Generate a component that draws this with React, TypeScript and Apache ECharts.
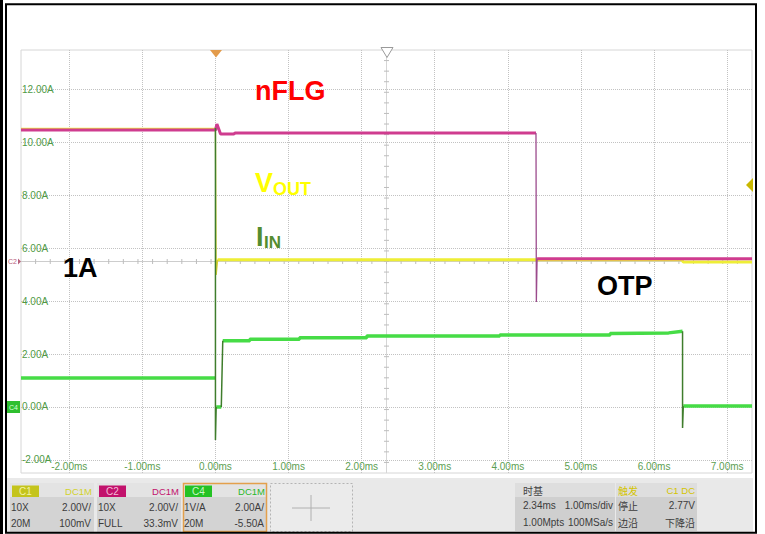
import React, { useEffect, useRef } from "react";
import * as echarts from "echarts";

// ---- axis ranges (scope screen: 10 div x 1 ms, 8 div x 2 A, offset -5.50 A, delay 2.34 ms)
const X_MIN = -2.66;
const X_MAX = 7.34;
const Y_MIN = -2.5;
const Y_MAX = 13.5;
const CENTER_TIME = 2.34;
const CENTER_CURRENT = 5.5;

// ---- tick labels
const timeTicks = [-2, -1, 0, 1, 2, 3, 4, 5, 6, 7];
const currentTicks = [-2, 0, 2, 4, 6, 8, 10, 12];

// ---- nFLG (C2, magenta)
const nflgT = [-2.66, 0.0, 0.02, 0.07, 0.25, 0.27, 4.385, null, 4.4, 7.34];
const nflgV = [10.47, 10.47, 10.7, 10.32, 10.32, 10.36, 10.36, null, 5.6, 5.6];
const nflgEdgeT = [4.385, 4.39, 4.4];
const nflgEdgeV = [10.36, 3.97, 5.6];

// ---- VOUT (C1, yellow)
const voutT = [-2.66, 0.0, null, 0.03, 6.38, 6.4, 7.34];
const voutV = [10.5, 10.5, null, 5.57, 5.57, 5.48, 5.48];
const voutEdgeT = [0.0, 0.01, 0.03];
const voutEdgeV = [10.5, 4.99, 5.57];

// ---- IIN (C4, green)
const iinT = [-2.66, 0.0, null, 0.01, 0.08, null, 0.1, 0.47, 0.47, 1.15, 1.15, 2.07, 2.07, 3.89, 3.89, 5.4, 5.4, 6.2, 6.39, null, 6.4, 7.34];
const iinV = [1.09, 1.09, null, 0.0, 0.0, null, 2.5, 2.5, 2.56, 2.56, 2.62, 2.62, 2.68, 2.68, 2.72, 2.72, 2.78, 2.8, 2.86, null, 0.03, 0.03];
const iinEdgeT = [0.0, 0.0, 0.0, 0.01, null, 0.08, 0.1, null, 6.39, 6.39, 6.4];
const iinEdgeV = [1.09, 10.55, -1.25, 0.0, null, 0.0, 2.5, null, 2.86, -0.8, 0.03];

const zip = (t: (number | null)[], v: (number | null)[]) =>
  t.map((x, i) => (x == null || v[i] == null ? ["-", "-"] : [x, v[i]]));

const SANS = '"Liberation Sans", Arial, sans-serif';
const CJK = '"Noto Sans CJK SC", "Liberation Sans", sans-serif';

const txt = (x: number, y: number, text: string, fill: string, size = 10, align = "left", family = SANS, weight = "normal") => ({
  type: "text",
  x,
  y,
  z: 100,
  style: { text, fill, fontSize: size, fontFamily: family, fontWeight: weight, textAlign: align, textVerticalAlign: "middle", align, verticalAlign: "middle", lineHeight: size + 1 },
});
const rect = (x: number, y: number, w: number, h: number, style: any) => ({ type: "rect", z: 50, shape: { x, y, width: w, height: h }, style });

function channelBox(x: number, label: string, labelBg: string, labelFg: string, coupling: string, couplingColor: string, r1: [string, string], r2: [string, string], selected = false) {
  const w = 84;
  const els: any[] = [
    rect(x, 483, w, 14, { fill: "#e3e3e3" }),
    rect(x, 497, w, 35, { fill: "#d3d3d3" }),
    rect(x + 2, 485.5, 27, 11.5, { fill: labelBg }),
    txt(x + 15.5, 491.5, label, labelFg, 10, "center"),
    txt(x + w - 2, 491.5, coupling, couplingColor, 9.5, "right"),
    txt(x + 1, 507, r1[0], "#3c3c3c", 10, "left"),
    txt(x + w - 3, 507, r1[1], "#3c3c3c", 10, "right"),
    txt(x + 1, 523, r2[0], "#3c3c3c", 10, "left"),
    txt(x + w - 3, 523, r2[1], "#3c3c3c", 10, "right"),
  ];
  if (selected) els.push({ type: "rect", z: 60, shape: { x: x + 0.5, y: 483.5, width: w - 1, height: 48 }, style: { fill: "none", stroke: "#e3a04c", lineWidth: 1.5 } });
  return els;
}

export default function App() {
  const ref = useRef<HTMLDivElement>(null);
  useEffect(() => {
    if (!ref.current) return;
    const chart = echarts.init(ref.current, null, { renderer: "svg" });

    const line = (name: string, data: any[], color: string, width: number, z: number) => ({
      name,
      type: "line",
      data,
      symbol: "none",
      silent: true,
      connectNulls: false,
      z,
      lineStyle: { color, width },
    });

    const graphics: any[] = [
      // outer frame
      rect(0, 0, 3, 534, { fill: "#000" }),
      { type: "rect", z: 90, shape: { x: 6, y: 4.3, width: 750, height: 528.5 }, style: { fill: "none", stroke: "#000", lineWidth: 2 } },
      // status bar
      rect(7, 478, 746, 54, { fill: "#e9e9e9" }),
      ...channelBox(10, "C1", "#c4c41c", "#f2f2a8", "DC1M", "#d2d22c", ["10X", "2.00V/"], ["20M", "100mV"]),
      ...channelBox(97, "C2", "#c2126c", "#f4bcd8", "DC1M", "#c2126c", ["10X", "2.00V/"], ["FULL", "33.3mV"]),
      ...channelBox(183, "C4", "#24c224", "#c8f8c8", "DC1M", "#2ab82a", ["1V/A", "2.00A/"], ["20M", "-5.50A"], true),
      { type: "rect", z: 50, shape: { x: 270.5, y: 483.5, width: 82, height: 48 }, style: { fill: "#ebebeb", stroke: "#b4b4b4", lineWidth: 1, lineDash: [2, 2] } },
      { type: "line", z: 55, shape: { x1: 292, y1: 508, x2: 330, y2: 508 }, style: { stroke: "#b0b0b0", lineWidth: 1 } },
      { type: "line", z: 55, shape: { x1: 311, y1: 495, x2: 311, y2: 521 }, style: { stroke: "#b0b0b0", lineWidth: 1 } },
      // time base box
      rect(515, 483, 100, 14, { fill: "#dedede" }),
      rect(515, 497, 100, 34, { fill: "#cfcfcf" }),
      txt(523, 490, "时基", "#444", 10, "left", CJK),
      txt(523, 505, "2.34ms", "#3c3c3c", 10, "left"),
      txt(613, 505, "1.00ms/div", "#3c3c3c", 10, "right"),
      txt(523, 522, "1.00Mpts", "#3c3c3c", 10, "left"),
      txt(613, 522, "100MSa/s", "#3c3c3c", 10, "right"),
      // trigger box
      rect(616, 483, 81, 14, { fill: "#dedede" }),
      rect(616, 497, 81, 34, { fill: "#cfcfcf" }),
      txt(618, 490, "触发", "#d4c400", 10, "left", CJK),
      txt(695, 490, "C1 DC", "#d4c400", 9.5, "right"),
      txt(618, 505, "停止", "#3c3c3c", 10, "left", CJK),
      txt(695, 505, "2.77V", "#3c3c3c", 10, "right"),
      txt(618, 522, "边沿", "#3c3c3c", 10, "left", CJK),
      txt(695, 522, "下降沿", "#3c3c3c", 10, "right", CJK),
      // markers
      { type: "polygon", z: 100, shape: { points: [[210, 50], [222, 50], [216, 57.5]] }, style: { fill: "#e39b4b" } },
      { type: "polygon", z: 100, shape: { points: [[381, 47.5], [393, 47.5], [387, 57.5]] }, style: { fill: "#ffffff", stroke: "#9a9a9a", lineWidth: 1 } },
      { type: "polygon", z: 100, shape: { points: [[753, 178], [753, 192], [746, 185]] }, style: { fill: "#c9b800" } },
      txt(8, 261.5, "C2", "#b8607a", 7, "left"),
      { type: "polygon", z: 100, shape: { points: [[18, 258.5], [18, 264.5], [21, 261.5]] }, style: { fill: "#b8607a" } },
      rect(7, 401, 13, 12, { fill: "#2fbf2f" }),
      txt(13.5, 407, "C4", "#d8ffd8", 7, "center"),
      // annotations
      txt(255, 91, "nFLG", "#ff0000", 27, "left", SANS, "bold"),
      txt(255, 183, "V", "#ffff00", 27, "left", SANS, "bold"),
      txt(273, 188.5, "OUT", "#ffff00", 18, "left", SANS, "bold"),
      txt(256, 236.5, "I", "#548c30", 27, "left", SANS, "bold"),
      txt(264, 242, "IN", "#548c30", 17, "left", SANS, "bold"),
      txt(63, 268, "1A", "#000000", 27, "left", SANS, "bold"),
      txt(597, 285.5, "OTP", "#000000", 27, "left", SANS, "bold"),
    ];

    const option: any = {
      animation: false,
      backgroundColor: "#ffffff",
      grid: { left: 21, top: 50, width: 731, height: 423, show: true, borderColor: "#d6d6d6", borderWidth: 1, backgroundColor: "transparent" },
      xAxis: {
        type: "value",
        min: X_MIN,
        max: X_MAX,
        axisLine: { show: false },
        axisTick: { show: false, customValues: timeTicks },
        axisLabel: {
          inside: true,
          margin: 2,
          customValues: timeTicks,
          formatter: (v: number) => v.toFixed(2) + "ms",
          color: "#5c9e52",
          fontSize: 10,
          fontFamily: SANS,
        },
        splitLine: { show: true, lineStyle: { type: "dotted", color: "#c2c2c2", width: 1 } },
      },
      yAxis: {
        type: "value",
        min: Y_MIN,
        max: Y_MAX,
        axisLine: { show: false },
        axisTick: { show: false, customValues: currentTicks },
        axisLabel: {
          inside: true,
          margin: 1,
          customValues: currentTicks,
          formatter: (v: number) => v.toFixed(2) + "A",
          color: "#4f9a46",
          fontSize: 10,
          fontFamily: SANS,
          verticalAlign: "middle",
          padding: [0, 0, 7, 0],
        },
        splitLine: { show: true, lineStyle: { type: "dotted", color: "#c2c2c2", width: 1 } },
      },
      series: [
        {
          type: "custom",
          silent: true,
          z: 1,
          data: [[CENTER_TIME, CENTER_CURRENT]],
          renderItem: (_p: any, api: any) => {
            const c = api.coord([CENTER_TIME, CENTER_CURRENT]);
            const tl = api.coord([X_MIN, Y_MAX]);
            const br = api.coord([X_MAX, Y_MIN]);
            const children: any[] = [
              { type: "line", shape: { x1: tl[0], y1: c[1], x2: br[0], y2: c[1] }, style: { stroke: "#cdcdcd", lineWidth: 1 } },
              { type: "line", shape: { x1: c[0], y1: tl[1], x2: c[0], y2: br[1] }, style: { stroke: "#d6d6d6", lineWidth: 1 } },
            ];
            for (let k = 1; k < 50; k++) {
              const p = api.coord([X_MIN + k * 0.2, CENTER_CURRENT]);
              children.push({ type: "line", shape: { x1: p[0], y1: c[1] - 2.5, x2: p[0], y2: c[1] + 2.5 }, style: { stroke: "#bdbdbd", lineWidth: 1 } });
            }
            for (let k = 1; k < 40; k++) {
              const p = api.coord([CENTER_TIME, Y_MIN + k * 0.4]);
              children.push({ type: "line", shape: { x1: c[0] - 2.5, y1: p[1], x2: c[0] + 2.5, y2: p[1] }, style: { stroke: "#bdbdbd", lineWidth: 1 } });
            }
            return { type: "group", children };
          },
        },
        line("IIN", zip(iinT, iinV), "#46dc46", 3.5, 3),
        line("VOUT", zip(voutT, voutV), "#eeee36", 3, 4),
        line("VOUT edge", zip(voutEdgeT, voutEdgeV), "#d4cf30", 1.3, 4),
        line("nFLG", zip(nflgT, nflgV), "#cf3c8f", 3, 5),
        line("nFLG edge", zip(nflgEdgeT, nflgEdgeV), "#9b4a8c", 1.3, 5),
        line("IIN edge", zip(iinEdgeT, iinEdgeV), "#3f7d2c", 1.5, 6),
      ],
      graphic: graphics,
    };
    chart.setOption(option);
    return () => chart.dispose();
  }, []);
  return <div ref={ref} style={{ position: "absolute", left: 0, top: 0, width: 765, height: 534 }} />;
}
